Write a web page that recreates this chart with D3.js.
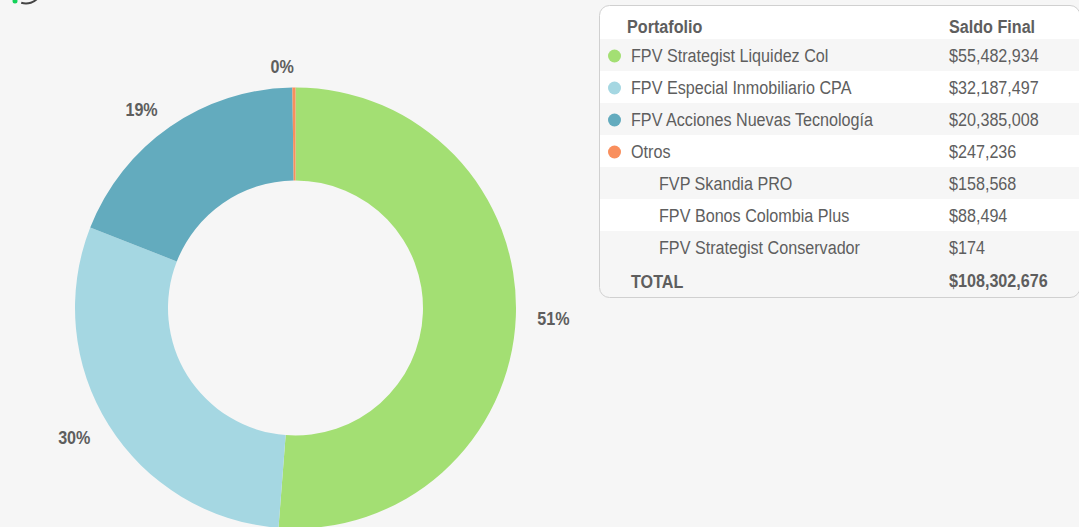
<!DOCTYPE html>
<html>
<head>
<meta charset="utf-8">
<script src="https://cdn.jsdelivr.net/npm/d3@7"></script>
<style>
    html, body { margin: 0; padding: 0; background: #f6f6f6; overflow: hidden; }
    svg { display: block; }
    text { font-family: "Liberation Sans", sans-serif; fill: #5e5e5e; font-size: 19px; }
    .bold { font-weight: bold; }
</style>
</head>
<body>
<svg width="1079" height="527"></svg>
<script>
// **** Data ****
var sliceNames = ["FPV Strategist Liquidez Col", "FPV Especial Inmobiliario CPA", "FPV Acciones Nuevas Tecnología", "Otros"];
var sliceValues = [55482934, 32187497, 20385008, 247236];
var sliceColors = ["#a3df73", "#a5d7e2", "#63abbe", "#f98f5d"];

var subNames = ["FVP Skandia PRO", "FPV Bonos Colombia Plus", "FPV Strategist Conservador"];
var subValues = [158568, 88494, 174];

var headerNames = ["Portafolio", "Saldo Final"];
var totalName = "TOTAL";
var totalValue = 108302676;

var svg = d3.select("svg");
var money = d3.format("$,");

// the original font is a narrow one, so squeeze the text horizontally
var squeeze = 0.85;
function placeText(x, y) {
    return "translate(" + x + "," + y + ") scale(" + squeeze + ",1)";
}

// **** Donut ****
var cx = 295.5, cy = 308;
var outerR = 220.5, innerR = 127.5, labelR = 242;

var pie = d3.pie().sort(null)(sliceValues);
var arc = d3.arc().innerRadius(innerR).outerRadius(outerR);
var labelArc = d3.arc().innerRadius(labelR).outerRadius(labelR);
var total = d3.sum(sliceValues);

var donut = svg.append("g").attr("transform", "translate(" + cx + "," + cy + ")");

donut.selectAll("path")
    .data(pie)
    .enter()
    .append("path")
    .attr("d", arc)
    .attr("fill", function(d, i) { return sliceColors[i]; });

donut.selectAll("text")
    .data(pie)
    .enter()
    .append("text")
    .attr("class", "bold")
    .attr("dy", "0.38em")
    .attr("transform", function(d) {
        var p = labelArc.centroid(d);
        return placeText(p[0], p[1]);
    })
    .attr("text-anchor", function(d) { return (d.startAngle + d.endAngle) / 2 < Math.PI ? "start" : "end"; })
    .text(function(d) { return d3.format(".0%")(d.value / total); });

// **** Table panel ****
var panelX = 599.5, panelY = 5.5, panelW = 480.5, panelH = 292;

var clip = svg.append("clipPath").attr("id", "panel-clip");
clip.append("rect")
    .attr("x", panelX).attr("y", panelY)
    .attr("width", panelW).attr("height", panelH)
    .attr("rx", 10);

svg.append("rect")
    .attr("x", panelX).attr("y", panelY)
    .attr("width", panelW).attr("height", panelH)
    .attr("rx", 10)
    .attr("fill", "#ffffff");

// one entry per table row, built from the arrays above
var rows = [];
sliceNames.forEach(function(n, i) { rows.push({ name: n, value: sliceValues[i], color: sliceColors[i], level: 0 }); });
subNames.forEach(function(n, i) { rows.push({ name: n, value: subValues[i], level: 1 }); });

var rowY = d3.scaleBand()
    .domain(d3.range(rows.length))
    .range([39, 263]);

var table = svg.append("g");

table.selectAll("rect.stripe")
    .data(rows)
    .enter()
    .append("rect")
    .attr("class", "stripe")
    .attr("clip-path", "url(#panel-clip)")
    .attr("x", panelX)
    .attr("y", function(d, i) { return rowY(i); })
    .attr("width", panelW)
    .attr("height", rowY.bandwidth())
    .attr("fill", function(d, i) { return i % 2 === 0 ? "#f6f6f6" : "#ffffff"; });

// total row sits on the same grey
table.append("rect")
    .attr("clip-path", "url(#panel-clip)")
    .attr("x", panelX).attr("y", 263)
    .attr("width", panelW).attr("height", 35)
    .attr("fill", "#f6f6f6");

var nameX = { 0: 631, 1: 659 };
var valueX = 949;

table.selectAll("circle")
    .data(rows.filter(function(d) { return d.color; }))
    .enter()
    .append("circle")
    .attr("cx", 614.5)
    .attr("cy", function(d, i) { return rowY(i) + rowY.bandwidth() / 2 + 1; })
    .attr("r", 6.5)
    .attr("fill", function(d) { return d.color; });

var rowGroups = table.selectAll("g.row")
    .data(rows)
    .enter()
    .append("g")
    .attr("class", "row")
    .attr("transform", function(d, i) { return "translate(0," + (rowY(i) + rowY.bandwidth() / 2) + ")"; });

rowGroups.append("text")
    .attr("dy", "0.38em")
    .attr("transform", function(d) { return placeText(nameX[d.level], 0); })
    .text(function(d) { return d.name; });

rowGroups.append("text")
    .attr("dy", "0.38em")
    .attr("transform", placeText(valueX, 0))
    .text(function(d) { return money(d.value); });

// header and total rows
table.append("text").attr("class", "bold").attr("transform", placeText(627, 32.5)).text(headerNames[0]);
table.append("text").attr("class", "bold").attr("transform", placeText(valueX, 32.5)).text(headerNames[1]);
table.append("text").attr("class", "bold").attr("transform", placeText(nameX[0], 288)).text(totalName);
table.append("text").attr("class", "bold").attr("transform", placeText(valueX, 287)).text(money(totalValue));

svg.append("rect")
    .attr("x", panelX).attr("y", panelY)
    .attr("width", panelW).attr("height", panelH)
    .attr("rx", 10)
    .attr("fill", "none")
    .attr("stroke", "#d0d0d0");

// **** Cropped icon at the top-left corner ****
svg.append("circle").attr("cx", 15).attr("cy", 1).attr("r", 2.5).attr("fill", "#14d25a");
svg.append("path")
    .attr("d", d3.arc()({ innerRadius: 14.5, outerRadius: 16.5, startAngle: Math.PI * 0.7, endAngle: Math.PI * 1.1 }))
    .attr("transform", "translate(26,-12)")
    .attr("fill", "#444444");
</script>
</body>
</html>
